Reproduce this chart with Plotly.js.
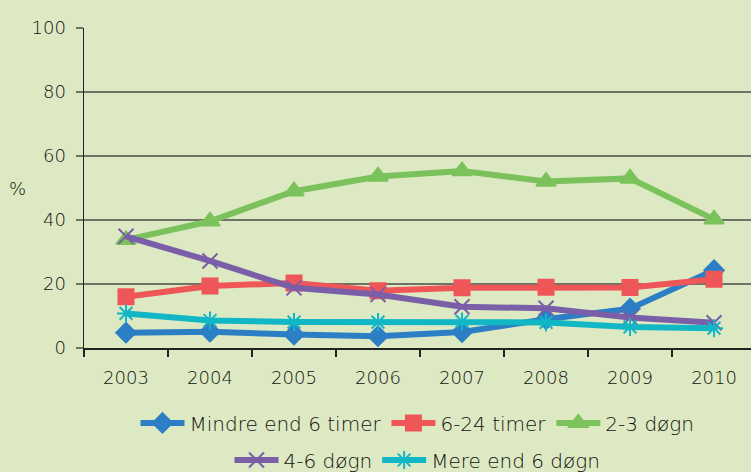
<!DOCTYPE html>
<html>
<head>
<meta charset="utf-8">
<script src="https://cdn.plot.ly/plotly-3.0.1.min.js"></script>
<style>
  html, body { margin: 0; padding: 0; background: #dde9c2; }
  #chart { width: 751px; height: 472px; }
</style>
</head>
<body>
<div id="chart"></div>
<script>
// years on the x axis
var years = ['2003', '2004', '2005', '2006', '2007', '2008', '2009', '2010'];

// share of cases (%) per duration group
var mindre6timer = [4.8, 5.1, 4.2, 3.7, 5.0, 9.0, 12.3, 24.3];
var timer6til24 = [16.0, 19.4, 20.3, 17.9, 18.8, 19.0, 18.9, 21.5];
var dogn2til3 = [33.8, 39.6, 49.0, 53.6, 55.3, 52.0, 53.0, 40.2];
var dogn4til6 = [34.9, 27.2, 18.8, 16.7, 12.9, 12.4, 9.5, 7.9];
var mere6dogn = [10.8, 8.6, 8.1, 8.1, 8.3, 8.0, 6.6, 6.2];

var names = ['Mindre end 6 timer', '6-24 timer', '2-3 døgn', '4-6 døgn', 'Mere end 6 døgn'];
var colors = ['#2c7fc4', '#ef5658', '#7cc25c', '#7a5ea8', '#12b7c6'];

function series(values, i, symbol, size, legend) {
    return {
        x: years,
        y: values,
        type: 'scatter',
        mode: 'lines+markers',
        name: names[i],
        legend: legend,
        line: {color: colors[i], width: 6},
        marker: {
            symbol: symbol,
            size: size,
            color: colors[i],
            line: {color: colors[i], width: 2}
        },
        cliponaxis: false
    };
}

var data = [
    series(mindre6timer, 0, 'diamond', 15, 'legend'),
    series(timer6til24, 1, 'square', 15, 'legend'),
    series(dogn2til3, 2, 'triangle-up', 17, 'legend'),
    series(dogn4til6, 3, 'x-thin-open', 15, 'legend2'),
    series(mere6dogn, 4, 'asterisk-open', 15, 'legend2')
];

var font = {family: 'DejaVu Sans', size: 18, color: '#111', weight: 200};
var legendFont = {family: 'DejaVu Sans', size: 20, color: '#111', weight: 200};

var layout = {
    width: 751,
    height: 472,
    paper_bgcolor: '#dde9c2',
    plot_bgcolor: '#dde9c2',
    margin: {l: 84, r: 0, t: 28, b: 124, autoexpand: false},
    font: font,
    showlegend: true,
    xaxis: {
        type: 'category',
        range: [-0.5, 7.44],
        tickson: 'boundaries',
        ticks: 'outside',
        ticklen: 7,
        tickwidth: 1.5,
        tickcolor: '#222',
        showgrid: false,
        showline: true,
        linecolor: '#222',
        linewidth: 1.5,
        ticklabelstandoff: 13,
        tickfont: font,
        fixedrange: true
    },
    yaxis: {
        range: [0, 100],
        tickvals: [0, 20, 40, 60, 80, 100],
        ticks: 'outside',
        ticklen: 7,
        tickwidth: 2,
        tickcolor: '#6f7366',
        showgrid: true,
        gridcolor: '#6f7366',
        gridwidth: 2,
        zeroline: false,
        showline: true,
        linecolor: '#222',
        linewidth: 1.5,
        ticklabelstandoff: 6,
        tickfont: font,
        fixedrange: true
    },
    legend: {
        orientation: 'h',
        x: 0.5, xanchor: 'center',
        y: -0.234, yanchor: 'middle',
        bgcolor: 'rgba(0,0,0,0)',
        font: legendFont,
        itemwidth: 44
    },
    legend2: {
        orientation: 'h',
        x: 0.5, xanchor: 'center',
        y: -0.35, yanchor: 'middle',
        bgcolor: 'rgba(0,0,0,0)',
        font: legendFont,
        itemwidth: 44
    },
    annotations: [{
        text: '%',
        xref: 'paper', yref: 'y',
        x: -0.1, y: 50,
        xanchor: 'center', yanchor: 'middle',
        showarrow: false,
        font: font
    }]
};

Plotly.newPlot('chart', data, layout, {displayModeBar: false, staticPlot: true});
</script>
</body>
</html>
